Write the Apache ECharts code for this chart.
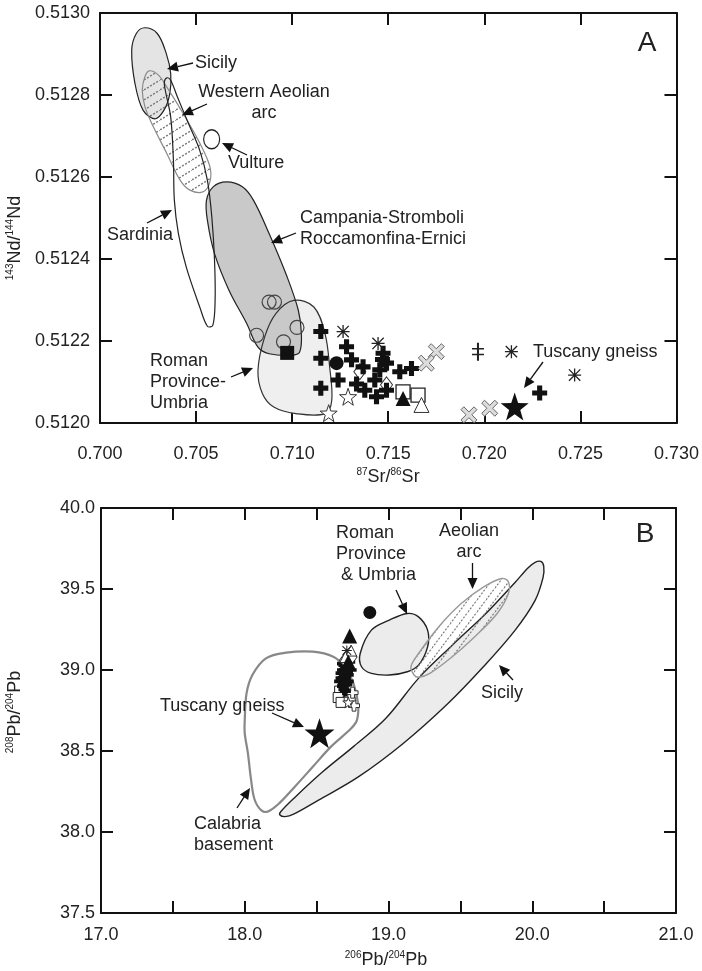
<!DOCTYPE html>
<html>
<head>
<meta charset="utf-8">
<script src="https://cdn.jsdelivr.net/npm/echarts/dist/echarts.min.js"></script>
<style>html,body{margin:0;padding:0;background:#fff}#main{width:702px;height:971px}</style>
</head>
<body>
<div id="main"></div>
<script>
var chart = echarts.init(document.getElementById('main'));
var FONT = '"Liberation Sans", Arial, sans-serif';

// ---- panel A : 87Sr/86Sr vs 143Nd/144Nd ----
var srRange = [0.700, 0.730], srStep = 0.005;
var ndRange = [0.5120, 0.5130], ndStep = 0.0002;

// field outlines
var sicilyA = [[0.70233,0.512964],[0.70298,0.51295],[0.70345,0.512901],[0.70368,0.512852],[0.70363,0.512803],[0.70333,0.512763],[0.70286,0.512742],[0.70224,0.512763],[0.70182,0.512828],[0.70165,0.512909],[0.70189,0.51295]];
var westAeolianA = [[0.70256,0.512859],[0.70303,0.512849],[0.70347,0.51282],[0.70433,0.512755],[0.7052,0.512682],[0.70572,0.512625],[0.70572,0.512588],[0.70537,0.512564],[0.70468,0.512568],[0.70416,0.512593],[0.70347,0.512658],[0.70277,0.512723],[0.70234,0.512771],[0.7022,0.512812],[0.70234,0.512845]];
var sardiniaA = [[0.70349,0.512842],[0.70368,0.512836],[0.70403,0.512795],[0.70461,0.51273],[0.70519,0.512665],[0.70559,0.512592],[0.70582,0.512502],[0.70596,0.512397],[0.70599,0.512299],[0.70587,0.512238],[0.70559,0.512236],[0.70519,0.512283],[0.70449,0.51238],[0.70408,0.512462],[0.70387,0.512543],[0.70382,0.512641],[0.70368,0.512746],[0.7034,0.512811],[0.70335,0.512832]];
var campaniaA = [[0.70659,0.512588],[0.70741,0.512576],[0.70799,0.512543],[0.7088,0.512462],[0.70974,0.512356],[0.71032,0.512275],[0.71048,0.512218],[0.71039,0.512173],[0.70997,0.512165],[0.7088,0.512169],[0.70822,0.512185],[0.70764,0.512242],[0.70671,0.512324],[0.70596,0.512413],[0.70559,0.512494],[0.70554,0.512543],[0.70589,0.512576]];
var romanA = [[0.71008,0.512299],[0.71113,0.512283],[0.71171,0.512218],[0.71195,0.512137],[0.71206,0.512055],[0.71171,0.512023],[0.7102,0.512023],[0.70904,0.512039],[0.70845,0.512072],[0.70822,0.512128],[0.70857,0.51221],[0.70915,0.512267]];

// samples
var vultureA = [[0.70581,0.512692]];
var openCircleA = [[0.7088,0.512295],[0.70908,0.512295],[0.70815,0.512214],[0.70955,0.512198],[0.71025,0.512233]];
var squareA = [[0.70974,0.512171]];
var crossA = [[0.71149,0.512223],[0.71283,0.512186],[0.71149,0.512158],[0.71149,0.512085],[0.71239,0.512105],[0.71309,0.512154],[0.71369,0.512137],[0.71378,0.51208],[0.71439,0.512064],[0.71473,0.51217],[0.71491,0.512146],[0.71456,0.51213],[0.7156,0.512125],[0.71621,0.512133],[0.71491,0.51208],[0.7143,0.512105],[0.71335,0.512095],[0.7147,0.512155],[0.72288,0.512073]];
var dotA = [[0.71231,0.512146]];
var triangleA = [[0.71577,0.51206]];
var openSquareA = [[0.71577,0.512076],[0.71655,0.512068]];
var openTriangleA = [[0.71673,0.512044]];
var openDiamondA = [[0.71352,0.512125],[0.71491,0.512093]];
var openStarA = [[0.71291,0.512064],[0.7119,0.512024]];
var asteriskA = [[0.71265,0.512223],[0.71447,0.512194],[0.72141,0.512174],[0.7247,0.512117]];
var daggerA = [[0.71967,0.512174]];
var grayXA = [[0.7175,0.512174],[0.71698,0.512146],[0.7192,0.51202],[0.72028,0.512036]];
var gneissA = [[0.72158,0.51204]];

// ---- panel B : 206Pb/204Pb vs 208Pb/204Pb ----
var pb6Range = [17.0, 21.0], pb6Step = 0.5;
var pb8Range = [37.5, 40.0], pb8Step = 0.5;

var calabriaB = [[18.0,38.692],[18.0125,38.856],[18.053,38.969],[18.147,39.072],[18.288,39.107],[18.475,39.113],[18.616,39.082],[18.694,39.02],[18.756,38.918],[18.788,38.794],[18.781,38.692],[18.741,38.64],[18.6,38.527],[18.475,38.404],[18.35,38.281],[18.241,38.178],[18.1625,38.127],[18.116,38.133],[18.069,38.199],[18.044,38.322],[18.022,38.486],[18.0,38.609]];
var sicilyB = [[18.25,38.125],[18.35,38.215],[18.54,38.37],[18.76,38.53],[18.98,38.7],[19.21,38.95],[19.44,39.15],[19.69,39.36],[19.88,39.54],[19.97,39.63],[20.02,39.665],[20.06,39.67],[20.08,39.64],[20.075,39.57],[20.02,39.43],[19.88,39.245],[19.66,39.02],[19.41,38.79],[19.1,38.545],[18.79,38.34],[18.51,38.195],[18.34,38.11],[18.28,38.095],[18.245,38.105]];
var romanB = [[18.803,39.102],[18.881,39.246],[19.006,39.308],[19.131,39.349],[19.209,39.328],[19.272,39.246],[19.272,39.143],[19.209,39.03],[19.131,38.989],[19.006,38.969],[18.881,38.979],[18.8125,39.02]];
var aeolianB = [[19.178,38.969],[19.156,39.02],[19.209,39.102],[19.35,39.267],[19.506,39.41],[19.6625,39.513],[19.7875,39.565],[19.834,39.544],[19.834,39.472],[19.756,39.349],[19.6,39.205],[19.444,39.082],[19.2875,38.979],[19.209,38.955]];

var crossB = [[18.68,39.0],[18.7,38.95],[18.66,38.93],[18.72,38.97],[18.69,38.88],[18.73,39.05],[18.67,38.98],[18.71,38.91],[18.68,39.04],[18.69,39.03],[18.71,38.99],[18.7,38.87],[18.67,38.95],[18.72,38.93],[18.74,39.0],[18.68,38.9]];
var openSquareB = [[18.66,38.87],[18.65,38.83],[18.73,38.85],[18.67,38.8]];
var openTriangleB = [[18.74,39.12],[18.7,39.08]];
var openCrossB = [[18.76,38.78],[18.73,38.82],[18.75,38.86]];
var openDiamondB = [[18.72,39.02],[18.69,39.06],[18.75,39.08]];
var dotB = [[18.87,39.355],[18.7,38.99]];
var triangleB = [[18.73,39.21],[18.72,39.05]];
var openStarB = [[18.72,38.8]];
var asteriskB = [[18.71,39.12]];
var gneissB = [[18.52,38.61]];

// ---- symbols ----
var PLUS = 'path://M33,0H67V33H100V67H67V100H33V67H0V33H33Z';
var STAR = 'path://M50,0L61.8,33.8L97.6,34.5L69,56.2L79.4,90.5L50,70L20.6,90.5L31,56.2L2.4,34.5L38.2,33.8Z';
var ASTER = 'path://M0,45H100V55H0Z M45,0H55V100H45Z M10,3L97,90L90,97L3,10Z M90,3L97,10L10,97L3,90Z';
var XMARK = 'path://M0,18L18,0L50,32L82,0L100,18L68,50L100,82L82,100L50,68L18,100L0,82L32,50Z';
var DDAG = 'path://M44,0H56V100H44Z M15,30H85V38H15Z M15,62H85V70H15Z';

function hatch(w, h, lw) {
    var c = document.createElement('canvas');
    c.width = w; c.height = h;
    var ctx = c.getContext('2d');
    ctx.strokeStyle = '#7a7a7a';
    ctx.lineWidth = lw;
    ctx.setLineDash([2, 1.6]);
    ctx.beginPath();
    ctx.moveTo(0, h); ctx.lineTo(w, 0);
    ctx.moveTo(-w, h); ctx.lineTo(0, 0);
    ctx.moveTo(w, 2 * h); ctx.lineTo(2 * w, h);
    ctx.stroke();
    return { image: c, repeat: 'repeat' };
}
var hatchA = hatch(16, 10, 1.5);
var hatchB = hatch(9, 12, 1.2);

function poly(pts, p, fill, stroke, lw) {
    return {
        type: 'custom', xAxisIndex: 2 * p, yAxisIndex: 2 * p, silent: true,
        data: [pts[0]],
        renderItem: function (params, api) {
            return {
                type: 'polygon',
                shape: { points: pts.map(function (d) { return api.coord(d); }), smooth: 0.35 },
                style: { fill: fill, stroke: stroke, lineWidth: lw }
            };
        }
    };
}
function sc(data, p, symbol, size, color, border, bw) {
    return {
        type: 'scatter', xAxisIndex: 2 * p, yAxisIndex: 2 * p, silent: true,
        data: data, symbol: symbol, symbolSize: size,
        itemStyle: { color: color, borderColor: border || color, borderWidth: bw || 0, opacity: 1 }
    };
}

function xAx(grid, range, step, pos, fmt, margin) {
    return {
        type: 'value', gridIndex: grid, position: pos, min: range[0], max: range[1], interval: step,
        axisLine: { show: true, lineStyle: { color: '#111', width: 2 } },
        axisTick: { show: true, inside: true, length: 12, lineStyle: { color: '#111', width: 2 } },
        axisLabel: { show: !!fmt, formatter: fmt, margin: margin, color: '#222', fontSize: 18, fontFamily: FONT },
        splitLine: { show: false }
    };
}

var series = [
    // panel A fills
    poly(romanA, 0, '#efefef', 'none', 0),
    poly(campaniaA, 0, '#c9c9c9', 'none', 0),
    poly(sicilyA, 0, '#e4e4e4', 'none', 0),
    poly(westAeolianA, 0, hatchA, 'none', 0),
    // panel A outlines
    poly(romanA, 0, 'none', '#333', 1.2),
    poly(campaniaA, 0, 'none', '#222', 1.2),
    poly(sicilyA, 0, 'none', '#222', 1.2),
    poly(westAeolianA, 0, 'none', '#8a8a8a', 1.2),
    poly(sardiniaA, 0, 'none', '#222', 1.2),
    // panel B
    poly(sicilyB, 1, '#ececec', '#222', 1.4),
    poly(romanB, 1, '#ececec', '#222', 1.4),
    poly(aeolianB, 1, hatchB, '#999', 1.4),
    poly(calabriaB, 1, 'none', '#888', 2.2),
    // panel A samples
    sc(vultureA, 0, 'circle', [16, 19], '#fff', '#222', 1.3),
    sc(openCircleA, 0, 'circle', 14, 'rgba(0,0,0,0)', '#444', 1.2),
    sc(squareA, 0, 'rect', 14, '#111'),
    sc(openStarA, 0, STAR, 17, '#fff', '#333', 1),
    sc(openDiamondA, 0, 'diamond', [12, 16], '#fff', '#333', 1),
    sc(openSquareA, 0, 'rect', 14, '#fff', '#222', 1.3),
    sc(openTriangleA, 0, 'triangle', 15, '#fff', '#333', 1),
    sc(crossA, 0, PLUS, 15, '#111'),
    sc(dotA, 0, 'circle', 14, '#111'),
    sc(triangleA, 0, 'triangle', 15, '#111'),
    sc(asteriskA, 0, ASTER, 13, '#222'),
    sc(daggerA, 0, DDAG, [12, 18], '#222'),
    sc(grayXA, 0, XMARK, 16, '#dcdcdc', '#666', 1),
    sc(gneissA, 0, STAR, 28, '#111'),
    // panel B samples
    sc(openSquareB, 1, 'rect', 10, '#fff', '#222', 1),
    sc(openCrossB, 1, PLUS, 11, '#fff', '#333', 1),
    sc(crossB, 1, PLUS, 11, '#111'),
    sc(openDiamondB, 1, 'diamond', [9, 12], '#fff', '#333', 1),
    sc(openTriangleB, 1, 'triangle', 11, '#fff', '#333', 1),
    sc(openStarB, 1, STAR, 11, '#fff', '#333', 1),
    sc(asteriskB, 1, ASTER, 10, '#222'),
    sc(dotB, 1, 'circle', 13, '#111'),
    sc(triangleB, 1, 'triangle', 15, '#111'),
    sc(gneissB, 1, STAR, 30, '#111')
];

function arrow(x1, y1, x2, y2) {
    var dx = x2 - x1, dy = y2 - y1, L = Math.sqrt(dx * dx + dy * dy);
    var ux = dx / L, uy = dy / L, h = 11, w = 5;
    var bx = x2 - ux * h, by = y2 - uy * h;
    return [
        { type: 'line', z: 100, shape: { x1: x1, y1: y1, x2: bx, y2: by }, style: { stroke: '#111', lineWidth: 1.3 } },
        { type: 'polygon', z: 100, shape: { points: [[x2, y2], [bx - uy * w, by + ux * w], [bx + uy * w, by - ux * w]] }, style: { fill: '#111' } }
    ];
}
function label(text, x, y, align, vAlign, size) {
    return {
        type: 'text', z: 100, x: x, y: y,
        style: { text: text, fill: '#222', font: (size || 18) + 'px ' + FONT, align: align, verticalAlign: vAlign, lineHeight: 21 }
    };
}
function axisName(main1, sup1, main2, sup2, x, y, rot) {
    return {
        type: 'text', z: 100, x: x, y: y, rotation: rot || 0,
        style: {
            text: '{s|' + sup1 + '}{m|' + main1 + '/}{s|' + sup2 + '}{m|' + main2 + '}',
            align: 'center', verticalAlign: 'middle',
            rich: {
                m: { fontSize: 18, fontFamily: FONT, fill: '#222', lineHeight: 20 },
                s: { fontSize: 10, fontFamily: FONT, fill: '#222', verticalAlign: 'top', lineHeight: 20 }
            }
        }
    };
}

var graphics = [
    label('Sicily', 195, 63, 'left', 'middle'),
    label('Western Aeolian\narc', 264, 82, 'center', 'top'),
    label('Vulture', 228, 163, 'left', 'middle'),
    label('Sardinia', 107, 235, 'left', 'middle'),
    label('Campania-Stromboli\nRoccamonfina-Ernici', 300, 208, 'left', 'top'),
    label('Roman\nProvince-\nUmbria', 150, 351, 'left', 'top'),
    label('Tuscany gneiss', 533, 352, 'left', 'middle'),
    label('A', 647, 43, 'center', 'middle', 28),
    label('Roman\nProvince\n & Umbria', 336, 523, 'left', 'top'),
    label('Aeolian\narc', 469, 521, 'center', 'top'),
    label('Sicily', 502, 693, 'center', 'middle'),
    label('Tuscany gneiss', 160, 706, 'left', 'middle'),
    label('Calabria\nbasement', 194, 814, 'left', 'top'),
    label('B', 645, 534, 'center', 'middle', 28),
    axisName('Sr', '87', 'Sr', '86', 388, 477),
    axisName('Pb', '206', 'Pb', '204', 386, 960),
    axisName('Nd', '143', 'Nd', '144', 15, 238, Math.PI / 2),
    axisName('Pb', '208', 'Pb', '204', 15, 712, Math.PI / 2)
].concat(
    arrow(193, 63, 167, 69),
    arrow(207, 104, 182, 115),
    arrow(247, 155, 222, 143),
    arrow(147, 223, 172, 210),
    arrow(296, 233, 271, 243),
    arrow(231, 377, 253, 368),
    arrow(543, 362, 524, 388),
    arrow(396, 590, 407, 614),
    arrow(472.5, 563, 472.5, 589),
    arrow(513, 680, 499, 665),
    arrow(272, 713, 304, 727),
    arrow(237, 808, 250, 788)
);

var option = {
    animation: false,
    backgroundColor: '#fff',
    grid: [
        { left: 100, top: 13, width: 577, height: 410 },
        { left: 101, top: 508, width: 575, height: 405 }
    ],
    xAxis: [
        xAx(0, srRange, srStep, 'bottom', function (v) { return v.toFixed(3); }, 22),
        xAx(0, srRange, srStep, 'top', null, 0),
        xAx(1, pb6Range, pb6Step, 'bottom', function (v) { return v % 1 === 0 ? v.toFixed(1) : ''; }, 13),
        xAx(1, pb6Range, pb6Step, 'top', null, 0)
    ],
    yAxis: [
        xAx(0, ndRange, ndStep, 'left', function (v) { return v.toFixed(4); }, 10),
        xAx(0, ndRange, ndStep, 'right', null, 0),
        xAx(1, pb8Range, pb8Step, 'left', function (v) { return v.toFixed(1); }, 6),
        xAx(1, pb8Range, pb8Step, 'right', null, 0)
    ],
    series: series,
    graphic: graphics
};
chart.setOption(option);
</script>
</body>
</html>
